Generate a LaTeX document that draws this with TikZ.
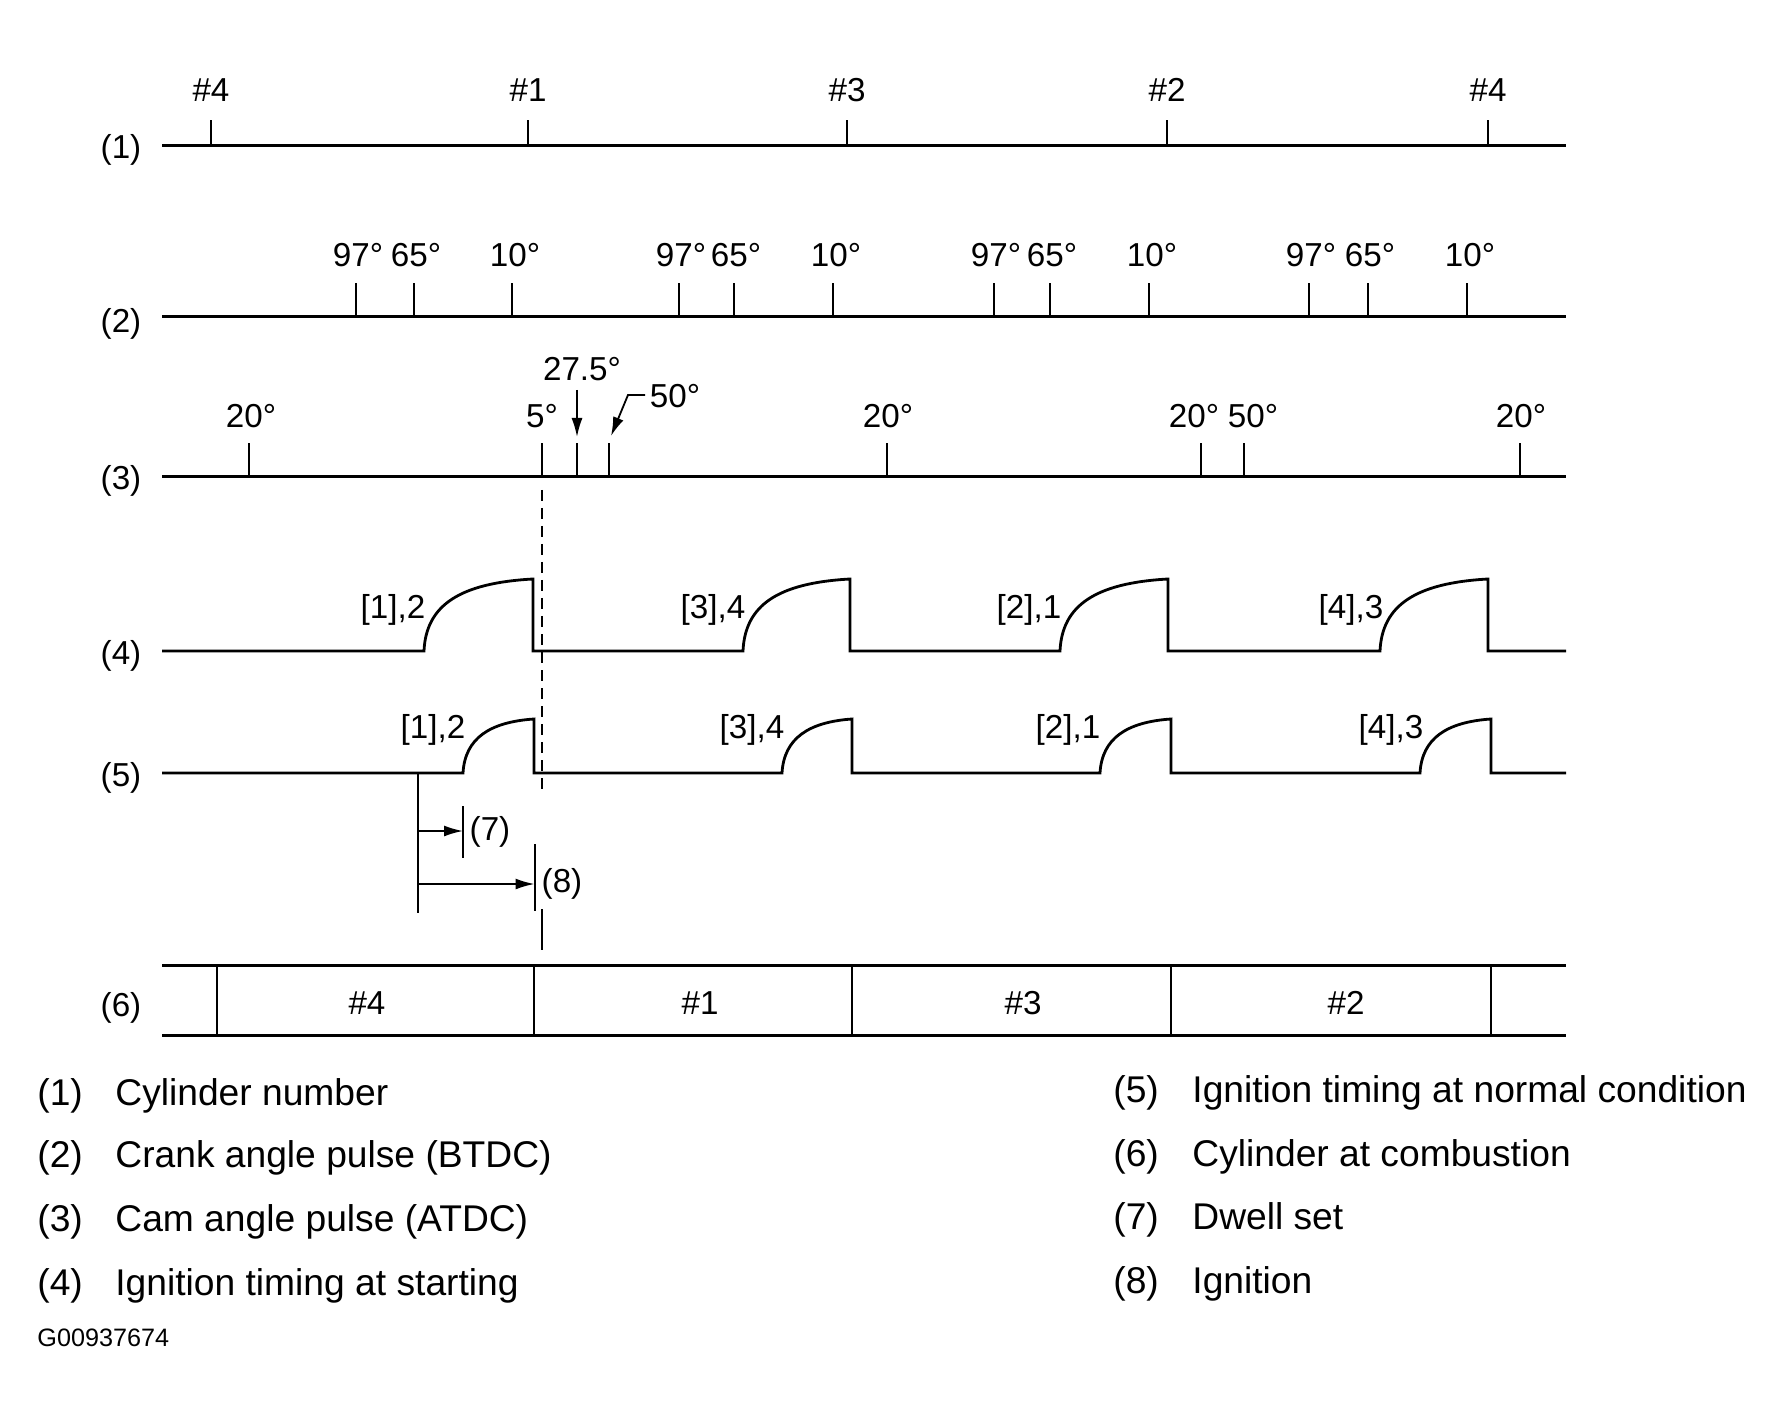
\documentclass[tikz,border=0pt]{standalone}
\usepackage{fontspec}
\setmainfont{Liberation Sans}
\usetikzlibrary{arrows.meta}
\begin{document}
\begin{tikzpicture}[x=0.5pt,y=-0.5pt,
  lbl/.style={font=\fontsize{16.6}{19}\selectfont, inner sep=0pt, anchor=base},
  leg/.style={font=\fontsize{18.6}{22}\selectfont, inner sep=0pt, anchor=base west},
  axis/.style={line width=1.5pt},
  tickmark/.style={line width=1pt},
  wave/.style={line width=1.4pt, line join=miter},
  arr/.style={line width=0.9pt,-{Latex[length=9.5pt,width=5.5pt]}},
]
\fill[white] (0,0) rectangle (1788,1422);
\useasboundingbox (0,0) rectangle (1788,1422);

% row labels
\foreach \n/\y in {1/159,2/333,3/490,4/664,5/786,6/1016}
  \node[lbl] (row\n) at (121,\y) {(\n)};

% (1) cylinder number
\draw[axis] (162,146) -- (1566,146);
\foreach \x/\t [count=\i] in {211/4,528/1,847/3,1167/2,1488/4}{
  \draw[tickmark] (\x,146) -- (\x,120);
  \node[lbl] (cyl\i) at (\x,102) {\#\t};
}

% (2) crank angle pulse
\draw[axis] (162,317) -- (1566,317);
\foreach \a/\b/\c [count=\i] in {356/414/512,679/734/833,994/1050/1149,1309/1368/1467}{
  \draw[tickmark] (\a,317) -- (\a,283) (\b,317) -- (\b,283) (\c,317) -- (\c,283);
  \node[lbl] (cra\i) at (\a+2,267) {97°};
  \node[lbl] (crb\i) at (\b+2,267) {65°};
  \node[lbl] (crc\i) at (\c+3,267) {10°};
}

% (3) cam angle pulse
\draw[axis] (162,477) -- (1566,477);
\foreach \x in {249,542,577,609,887,1201,1244,1520}
  \draw[tickmark] (\x,477) -- (\x,443);
\node[lbl] (cam1) at (251,428) {20°};
\node[lbl] (cam2) at (542,428) {5°};
\node[lbl] (cam3) at (582,381) {27.5°};
\node[lbl] (cam4) at (675,408) {50°};
\node[lbl] (cam5) at (888,428) {20°};
\node[lbl] (cam6) at (1194,428) {20°};
\node[lbl] (cam7) at (1253,428) {50°};
\node[lbl] (cam8) at (1521,428) {20°};
\coordinate (t275) at (577,437);
\coordinate (t50) at (611,436);
\draw[arr] (577,390) -- (t275);
\draw[arr] (645,395) -- (628,395) -- (t50);

% (4) ignition timing at starting
\draw[wave] (162,651) -- (424,651)
  .. controls (426,605) and (460,583) .. (533,579) -- (533,651) -- (743,651)
  .. controls (745,605) and (778,583) .. (850,579) -- (850,651) -- (1060,651)
  .. controls (1062,605) and (1096,583) .. (1168,579) -- (1168,651) -- (1380,651)
  .. controls (1382,605) and (1416,583) .. (1488,579) -- (1488,651) -- (1566,651);
\node[lbl] (s1) at (393,618) {[1],2};
\node[lbl] (s2) at (713,618) {[3],4};
\node[lbl] (s3) at (1029,618) {[2],1};
\node[lbl] (s4) at (1351,618) {[4],3};

% (5) ignition timing at normal condition
\draw[wave] (162,773) -- (463,773)
  .. controls (465,738) and (490,722) .. (534,719) -- (534,773) -- (782,773)
  .. controls (784,738) and (809,722) .. (852,719) -- (852,773) -- (1100,773)
  .. controls (1102,738) and (1127,722) .. (1171,719) -- (1171,773) -- (1420,773)
  .. controls (1422,738) and (1447,722) .. (1491,719) -- (1491,773) -- (1566,773);
\node[lbl] (n1) at (433,738) {[1],2};
\node[lbl] (n2) at (752,738) {[3],4};
\node[lbl] (n3) at (1068,738) {[2],1};
\node[lbl] (n4) at (1391,738) {[4],3};

% dashed reference line
\draw[line width=0.8pt, dash pattern=on 5.5pt off 3.5pt] (542,490) -- (542,793);
\draw[tickmark] (542,909) -- (542,950);

% dwell / ignition markers
\draw[tickmark] (418,773) -- (418,913);
\draw[tickmark] (463,806) -- (463,858);
\draw[tickmark] (534.5,844) -- (534.5,911);
\coordinate (d0) at (419,831);
\coordinate (d1) at (463,831);
\coordinate (i0) at (419,884);
\coordinate (i1) at (534.5,884);
\draw[arr] (d0) -- (d1);
\draw[arr] (i0) -- (i1);
\node[lbl] (m7) at (490,840) {(7)};
\node[lbl] (m8) at (562,892) {(8)};

% (6) cylinder at combustion
\draw[axis] (162,965) -- (1566,965);
\draw[axis] (162,1035) -- (1566,1035);
\foreach \x in {217,534,852,1171,1491}
  \draw[tickmark] (\x,965) -- (\x,1035);
\node[lbl] (b1) at (367,1014) {\#4};
\node[lbl] (b2) at (700,1014) {\#1};
\node[lbl] (b3) at (1023,1014) {\#3};
\node[lbl] (b4) at (1346,1014) {\#2};

% legend
\foreach \n/\t/\y in {1/Cylinder number/1105,2/Crank angle pulse (BTDC)/1167,3/Cam angle pulse (ATDC)/1231,4/Ignition timing at starting/1295}{
  \node[leg] (ln\n) at (37,\y) {(\n)};
  \node[leg] (lt\n) at (115,\y) {\t};
}
\foreach \n/\t/\y in {5/Ignition timing at normal condition/1102,6/Cylinder at combustion/1166,7/Dwell set/1229,8/Ignition/1293}{
  \node[leg] (ln\n) at (1113,\y) {(\n)};
  \node[leg] (lt\n) at (1192,\y) {\t};
}
\node[font=\fontsize{12.6}{15}\selectfont, inner sep=0pt, anchor=base west] (gid) at (37,1346) {G00937674};
\end{tikzpicture}
\end{document}
